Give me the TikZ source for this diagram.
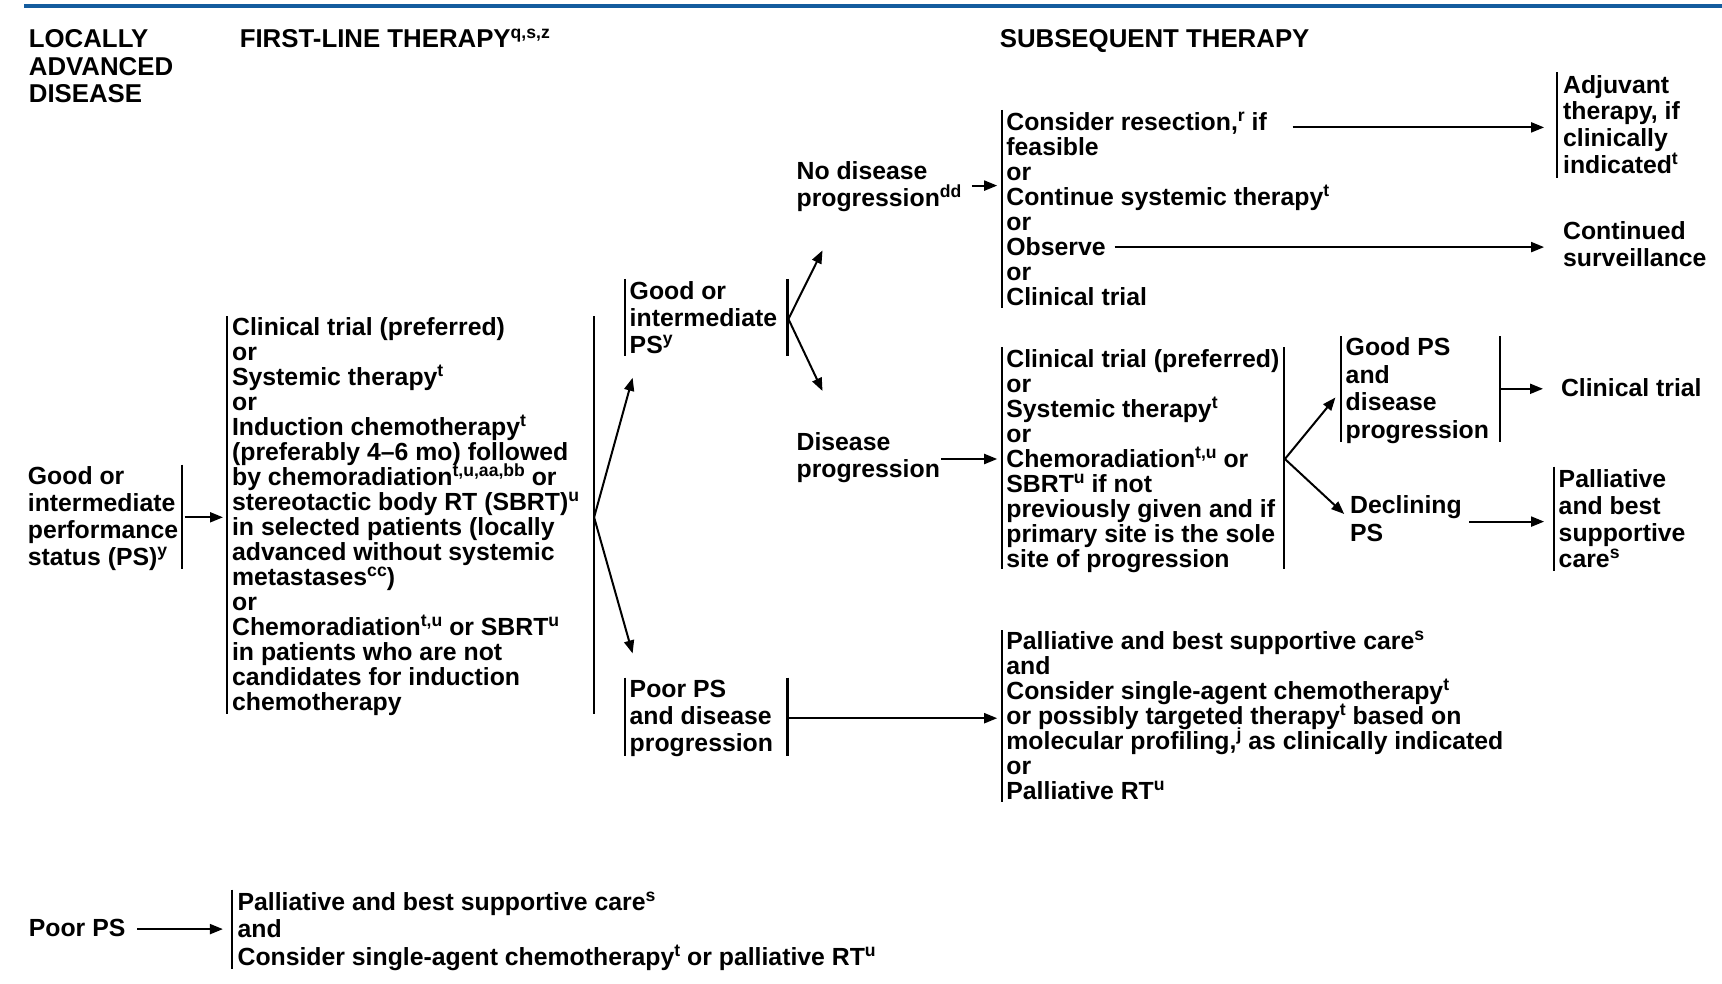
\documentclass[tikz,border=0pt]{standalone}
\usepackage{fontspec}
\setmainfont{Liberation Sans}
\usetikzlibrary{arrows.meta}
\definecolor{nccnblue}{RGB}{20,92,158}
\newcommand{\sps}[1]{\raisebox{0.36em}{\fontsize{8.8pt}{8.8pt}\selectfont\bfseries #1}}
\newcommand{\tightlines}{\lineskiplimit=-20pt\lineskip=0pt\relax}
\begin{document}
\begin{tikzpicture}[x=0.5pt,y=-0.5pt,
  txt/.style={anchor=base west, inner sep=0pt, align=left, font=\fontsize{12.4pt}{12.5pt}\selectfont\bfseries\tightlines},
  txtw/.style={txt, font=\fontsize{12.4pt}{13.4pt}\selectfont\bfseries\tightlines},
  txtww/.style={txt, font=\fontsize{12.4pt}{13.75pt}\selectfont\bfseries\tightlines},
  hdr/.style={anchor=base west, inner sep=0pt, align=left, font=\fontsize{12.9pt}{13.75pt}\selectfont\bfseries\tightlines},
  bar/.style={line width=1.1pt},
  arr/.style={line width=1pt, -{Triangle[length=6.5pt,width=5pt]}}
]
\useasboundingbox (0,0) rectangle (1722,984);
\fill[nccnblue] (24,4) rectangle (1722,8);

% anchors are at the baseline of the LAST line of each text block
\node[hdr] (h1) at (28.5,103) {LOCALLY\\ADVANCED\\DISEASE};
\node[hdr] (h2) at (239.4,48) {FIRST-LINE THERAPY\sps{q,s,z}};
\node[hdr] (h3) at (999.4,48) {SUBSEQUENT THERAPY};

% A
\node[txtw] (A) at (27.5,565) {Good or\\intermediate\\performance\\status (PS)\sps{y}};
\draw[bar] (182.3,464.5) -- (182.3,568.9);
\coordinate (Ar) at (184.5,517.3);
\coordinate (Bl) at (223,517.3);
\draw[arr] (Ar) -- (Bl);

% B
\node[txt] (B) at (231.7,710.3) {Clinical trial (preferred)\\or\\Systemic therapy\sps{t}\\or\\Induction chemotherapy\sps{t}\\(preferably 4–6 mo) followed\\by chemoradiation\sps{t,u,aa,bb} or\\stereotactic body RT (SBRT)\sps{u}\\in selected patients (locally\\advanced without systemic\\metastases\sps{cc})\\or\\Chemoradiation\sps{t,u} or SBRT\sps{u}\\in patients who are not\\candidates for induction\\chemotherapy};
\draw[bar] (227.3,316.3) -- (227.3,713.8);
\draw[bar] (594.1,316.3) -- (594.1,713.8);
\coordinate (Br) at (594.1,517.3);
\coordinate (Cin) at (632.6,377.8);
\coordinate (Nin) at (632.6,653.4);
\draw[arr] (Br) -- (Cin);
\draw[arr] (Br) -- (Nin);

% C
\node[txtw] (C) at (629.3,353) {Good or\\intermediate\\PS\sps{y}};
\draw[bar] (624.9,278.9) -- (624.9,355.8);
\draw[bar] (787.4,278.9) -- (787.4,355.8);
\coordinate (Cr) at (788.4,319);
\coordinate (Din) at (822.5,250.4);
\coordinate (Hin) at (822.5,391);
\draw[arr] (Cr) -- (Din);
\draw[arr] (Cr) -- (Hin);

% D
\node[txtw] (D) at (796.2,206.7) {No disease\\progression\sps{dd}};
\coordinate (Dr) at (971.9,185.6);
\coordinate (El) at (997.2,185.6);
\draw[arr] (Dr) -- (El);

% E
\node[txt] (E) at (1006,305.5) {Consider resection,\sps{r} if\\feasible\\or\\Continue systemic therapy\sps{t}\\or\\Observe\\or\\Clinical trial};
\draw[bar] (1001.6,109.8) -- (1001.6,307.5);
\coordinate (E1) at (1292.6,127.4);
\coordinate (Fl) at (1544.1,127.4);
\coordinate (E2) at (1114.7,247.1);
\coordinate (Gl) at (1544.1,247.1);
\draw[arr] (E1) -- (Fl);
\draw[arr] (E2) -- (Gl);

% F
\node[txtw] (F) at (1562.7,173.6) {Adjuvant\\therapy, if\\clinically\\indicated\sps{t}};
\draw[bar] (1557.2,72.5) -- (1557.2,177.9);

% G
\node[txtww] (G) at (1562.7,266.8) {Continued\\surveillance};

% H
\node[txtw] (H) at (796.2,477.7) {Disease\\progression};
\coordinate (Hr) at (941.2,459);
\coordinate (Il) at (997.2,459);
\draw[arr] (Hr) -- (Il);

% I
\node[txt] (I) at (1006,567.8) {Clinical trial (preferred)\\or\\Systemic therapy\sps{t}\\or\\Chemoradiation\sps{t,u} or\\SBRT\sps{u} if not\\previously given and if\\primary site is the sole\\site of progression};
\draw[bar] (1001.6,347) -- (1001.6,568.9);
\draw[bar] (1283.8,347) -- (1283.8,568.9);
\coordinate (Ir) at (1284.9,459);
\coordinate (Jin) at (1335.4,397.5);
\coordinate (Lin) at (1344.2,514);
\draw[arr] (Ir) -- (Jin);
\draw[arr] (Ir) -- (Lin);

% J
\node[txtww] (J) at (1345.3,438.2) {Good PS\\and\\disease\\progression};
\draw[bar] (1340.9,336) -- (1340.9,441.5);
\draw[bar] (1500.1,336) -- (1500.1,441.5);
\coordinate (Jr) at (1501.1,388.8);
\coordinate (Kl) at (1543,388.8);
\draw[arr] (Jr) -- (Kl);

% K
\node[txtw] (K) at (1560.6,396.4) {Clinical trial};

% L
\node[txtww] (L) at (1349.7,541.4) {Declining\\PS};
\coordinate (Lr) at (1469.4,521.6);
\coordinate (Ml) at (1544.1,521.6);
\draw[arr] (Lr) -- (Ml);

% M
\node[txtw] (M) at (1558.3,567.8) {Palliative\\and best\\supportive\\care\sps{s}};
\draw[bar] (1553.9,466.7) -- (1553.9,571);

% N
\node[txtw] (N) at (629.3,751.2) {Poor PS\\and disease\\progression};
\draw[bar] (624.9,677.6) -- (624.9,755.6);
\draw[bar] (787.4,677.6) -- (787.4,755.6);
\coordinate (Nr) at (788.4,718.2);
\coordinate (Ol) at (997.2,718.2);
\draw[arr] (Nr) -- (Ol);

% O
\node[txt] (O) at (1006,799.5) {Palliative and best supportive care\sps{s}\\and\\Consider single-agent chemotherapy\sps{t}\\or possibly targeted therapy\sps{t} based on\\molecular profiling,\sps{j} as clinically indicated\\or\\Palliative RT\sps{u}};
\draw[bar] (1001.6,630.4) -- (1001.6,801.7);

% P
\node[txtw] (P) at (28.5,936.8) {Poor PS};
\coordinate (Pr) at (137.3,929.1);
\coordinate (Ql) at (222.9,929.1);
\draw[arr] (Pr) -- (Ql);

% Q
\node[txtww] (Q) at (237.2,965.3) {Palliative and best supportive care\sps{s}\\and\\Consider single-agent chemotherapy\sps{t} or palliative RT\sps{u}};
\draw[bar] (231.7,889.5) -- (231.7,968.6);
\end{tikzpicture}
\end{document}
